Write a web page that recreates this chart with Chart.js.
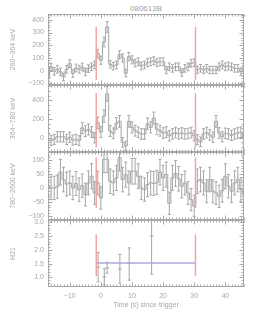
<!DOCTYPE html>
<html>
<head>
  <meta charset="UTF-8">
  <title>080613B</title>
  <script src="https://cdn.jsdelivr.net/npm/chart.js"></script>
  <style>
    body { margin: 0; background: #fff; }
    #wrap { position: relative; width: 269px; height: 323px; }
    #wrap canvas { position: absolute; left: 0; top: 0; }
    #title { position: absolute; left: 48px; width: 196px; top: 5px; text-align: center;
             font: 8px "Liberation Sans", sans-serif; line-height: 8px; color: #a0a0a0; }
  </style>
</head>
<body>
<div id="wrap">
  <div id="title"></div>
  <canvas id="p1" width="269" height="323"></canvas>
  <canvas id="p2" width="269" height="323"></canvas>
  <canvas id="p3" width="269" height="323"></canvas>
  <canvas id="p4" width="269" height="323"></canvas>
</div>
<script>
  const burstName = '080613B';
  const xTitle = 'Time (s) since trigger';
  const bandLabels = ['260−364 keV', '364−780 keV', '780−2600 keV', 'H21'];

  // bin centres (s since trigger)
  const times = [-17, -16, -15, -14, -13, -12, -11, -10, -9, -8, -7, -6, -5, -4, -3, -2,
                 -1, 0, 1, 2, 3, 4, 5, 6, 7, 8, 9, 10, 11, 12, 13, 14,
                 15, 16, 17, 18, 19, 20, 21, 22, 23, 24, 25, 26, 27, 28, 29, 30,
                 31, 32, 33, 34, 35, 36, 37, 38, 39, 40, 41, 42, 43, 44, 45, 46];

  // 260-364 keV
  const rate1 = [-55, 29, -5, 11, -10, -50, 11, 55, -23, 21, 11, 29, -10, 16, 30, 45,
                 134, 82, 226, 344, 50, 35, 45, 125, 100, -20, 110, 85, 60, 70, 37, 45,
                 63, 70, 78, 63, 70, 70, 5, 30, 18, 30, 30, -15, 18, 30, 58, 63,
                 5, 18, 5, 18, 5, 5, 5, 30, 45, 30, 37, 30, 18, 18, -8, 10];
  const err1 = [30, 30, 30, 30, 30, 30, 30, 30, 30, 30, 30, 30, 30, 30, 30, 31,
                34, 32, 38, 42, 30, 30, 30, 33, 32, 29, 33, 32, 31, 31, 30, 30,
                31, 31, 31, 31, 31, 31, 29, 30, 30, 30, 30, 29, 30, 30, 31, 31,
                29, 30, 29, 30, 29, 29, 29, 30, 31, 30, 30, 30, 30, 30, 29, 30];

  // 364-780 keV
  const rate2 = [-18, -30, -18, 10, 10, 10, -18, 4, -25, -18, -32, 105, 70, 88, 60, 0,
                 160, 60, 232, 470, 72, 47, 154, 175, -50, -88, 175, 111, 75, 58, 40, 40,
                 150, 110, 210, 92, 75, 50, 60, 20, 40, 55, 40, 50, 40, 45, 55, 20,
                 -20, -45, 40, 55, 30, 5, 175, 50, 10, 47, 40, 25, 40, 50, 60, -10];
  const err2 = [54, 53, 54, 55, 55, 55, 54, 55, 54, 54, 53, 60, 58, 59, 58, 55,
                62, 58, 66, 78, 58, 57, 62, 63, 52, 50, 63, 60, 58, 57, 56, 56,
                62, 60, 64, 59, 58, 57, 57, 55, 56, 57, 56, 57, 56, 56, 57, 55,
                53, 52, 56, 57, 56, 55, 63, 57, 55, 56, 56, 55, 56, 57, 57, 54];

  // 780-2600 keV
  const rate3 = [6, 0, 0, 5, 57, 30, 14, 18, 0, 16, -6, 8, -24, 18, 42, -18,
                 18, -36, 103, 103, 24, 18, 36, 109, 30, 48, 18, 60, 60, 42, 0, -6,
                 12, 18, 16, 20, 57, 36, 48, -55, 36, 52, 33, 6, 18, -18, -42, -65,
                 24, 30, 18, -12, 30, -12, -18, -30, -10, 42, 6, -12, 18, 30, -6, -20];
  const err3 = [42, 42, 42, 42, 46, 44, 43, 43, 42, 43, 42, 42, 41, 43, 45, 41,
                43, 40, 48, 48, 44, 43, 45, 48, 44, 45, 43, 46, 46, 45, 42, 42,
                43, 43, 43, 43, 46, 45, 45, 40, 45, 46, 44, 42, 43, 41, 40, 39,
                44, 44, 43, 41, 44, 41, 41, 40, 41, 45, 42, 41, 43, 44, 42, 41];

  // hardness ratio H21
  const hrTimes = [-0.9, 1.1, 2.0, 6.1, 9.1, 16.3];
  const hrVals = [1.37, 1.02, 1.34, 1.30, 1.50, 2.50];
  const hrLow = [0.84, 0.73, 1.15, 0.78, 0.90, 1.12];
  const hrHigh = [1.90, 1.31, 1.55, 1.83, 2.07, 3.20];
  const hrMean = 1.52;
  const hrMeanSpan = [-1.5, 30.4];

  // red interval markers
  const markTimes = [-1.5, 30.4];
  const markLow = [-73, -107, -72, 1.04];
  const markHigh = [344, 475, 109, 2.55];

  const xTicks = [-10, 0, 10, 20, 30, 40];
  const yTicks = [[-100, 0, 100, 200, 300, 400], [0, 200, 400], [-100, -50, 0, 50, 100], [1.0, 1.5, 2.0, 2.5, 3.0]];

  // layout / style
  const W = 269, H = 323;
  const panelTop = [14, 85, 152, 220];
  const panelBottom = [85, 152, 220, 287];
  const yRange = [[-113, 446], [-153, 564], [-115, 129], [0.65, 3.08]];
  const yMinor = [20, 50, 10, 0.1];
  const GREY = '#a6a6a6';
  const TXT = '#a8a8a8';
  const RED = '#f3a4a4';
  const BLUE = '#aaaadc';
  const FONT = { family: 'Liberation Sans', size: 7 };

  document.getElementById('title').textContent = burstName;

  // IDL-style box with inward major/minor ticks on all four sides
  const framePlugin = {
    id: 'frame',
    afterDatasetsDraw(chart, args, opts) {
      const { ctx, chartArea: a, scales: { x, y } } = chart;
      const L = Math.round(a.left) + 0.5, R = Math.round(a.right) - 0.5;
      const T = Math.round(a.top) + 0.5, B = Math.round(a.bottom) - 0.5;
      ctx.save();
      ctx.strokeStyle = opts.color;
      ctx.lineWidth = 1;
      ctx.strokeRect(L, T, R - L, B - T);
      ctx.beginPath();
      const xt = (v, len) => {
        const p = Math.round(x.getPixelForValue(v)) + 0.5;
        ctx.moveTo(p, B); ctx.lineTo(p, B - len);
        ctx.moveTo(p, T); ctx.lineTo(p, T + len);
      };
      const yt = (v, len) => {
        const p = Math.round(y.getPixelForValue(v)) + 0.5;
        ctx.moveTo(L, p); ctx.lineTo(L + len, p);
        ctx.moveTo(R, p); ctx.lineTo(R - len, p);
      };
      for (let v = Math.ceil(x.min / opts.xMinor) * opts.xMinor; v <= x.max; v += opts.xMinor) xt(v, 2);
      xTicks.forEach(v => xt(v, 4));
      const ym = opts.yMinor;
      for (let k = Math.ceil(y.min / ym); k * ym <= y.max; k++) yt(k * ym, 2);
      y.ticks.forEach(t => yt(t.value, 4));
      ctx.stroke();
      ctx.restore();
    }
  };

  function histo(vals) {
    return { data: times.map((t, i) => ({ x: t, y: vals[i] })), stepped: 'middle',
             borderColor: GREY, borderWidth: 1, pointRadius: 0 };
  }

  // vertical error bars with small caps, one gap-separated line dataset
  function bars(ts, lo, hi, cap) {
    const pts = [];
    ts.forEach((t, i) => {
      pts.push({ x: t, y: lo[i] }, { x: t, y: hi[i] }, { x: t, y: null });
    });
    return { data: pts, borderColor: GREY, borderWidth: 1, spanGaps: false,
             pointStyle: 'line', pointRadius: cap, pointBorderColor: GREY, pointBorderWidth: 1 };
  }

  function marks(i) {
    return markTimes.map(t => ({
      data: [{ x: t, y: markLow[i] }, { x: t, y: markHigh[i] }],
      borderColor: RED, borderWidth: 1.5, pointRadius: 0
    }));
  }

  function fmt(i) {
    return v => i === 3 ? v.toFixed(1) : String(v).replace('-', '−');
  }

  function panel(id, i, datasets) {
    const last = i === 3;
    return new Chart(document.getElementById(id), {
      type: 'line',
      data: { datasets },
      options: {
        responsive: false,
        animation: false,
        devicePixelRatio: 1,
        events: [],
        layout: { padding: { left: 0, right: W - 244, top: panelTop[i], bottom: last ? 0 : H - panelBottom[i] } },
        plugins: {
          legend: { display: false },
          tooltip: { enabled: false },
          frame: { color: TXT, xMinor: 1, yMinor: yMinor[i] }
        },
        scales: {
          x: {
            type: 'linear', min: -17, max: 46, display: last,
            afterBuildTicks: s => { s.ticks = xTicks.map(v => ({ value: v })); },
            afterFit: s => { if (last) s.height = H - panelBottom[3]; },
            grid: { display: false, drawTicks: false },
            border: { display: false },
            ticks: { padding: 5, autoSkip: false, maxRotation: 0, color: TXT, font: FONT, callback: fmt(0) },
            title: { display: true, text: xTitle, color: TXT, font: FONT, padding: { top: 0, bottom: 14 } }
          },
          y: {
            type: 'linear', min: yRange[i][0], max: yRange[i][1],
            afterBuildTicks: s => { s.ticks = yTicks[i].map(v => ({ value: v })); },
            afterFit: s => { s.width = 48; },
            grid: { display: false, drawTicks: false },
            border: { display: false },
            ticks: { padding: 4, color: TXT, font: FONT, callback: fmt(i) },
            title: { display: true, text: bandLabels[i], color: TXT, font: FONT, padding: { top: 9, bottom: 0 } }
          }
        }
      },
      plugins: [framePlugin]
    });
  }

  const rates = [rate1, rate2, rate3];
  const errs = [err1, err2, err3];
  ['p1', 'p2', 'p3'].forEach((id, i) => {
    const v = rates[i], e = errs[i];
    panel(id, i, [
      ...marks(i),
      bars(times, v.map((y, k) => y - e[k]), v.map((y, k) => y + e[k]), 1.5),
      histo(v)
    ]);
  });

  panel('p4', 3, [
    ...marks(3),
    { data: hrMeanSpan.map(t => ({ x: t, y: hrMean })), borderColor: BLUE, borderWidth: 1.5, pointRadius: 0 },
    bars(hrTimes, hrLow, hrHigh, 1.5),
    { data: hrTimes.map((t, k) => ({ x: t, y: hrVals[k] })), showLine: false,
      pointStyle: 'line', pointRadius: 2, pointBorderColor: GREY, pointBorderWidth: 1 }
  ]);
</script>
</body>
</html>
